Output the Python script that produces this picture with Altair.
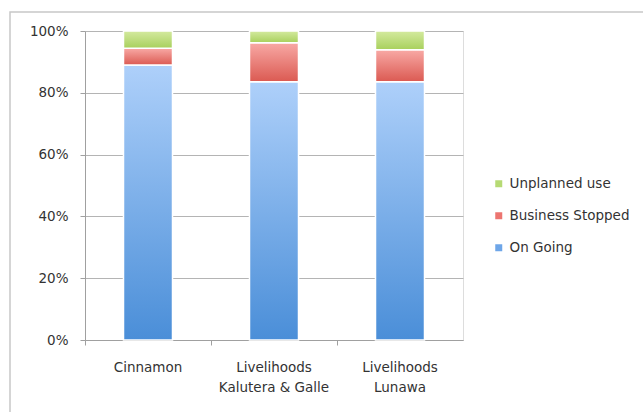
import altair as alt
import pandas as pd

# Share of supported businesses by status, per programme
categories = ["Cinnamon", "Livelihoods\nKalutera & Galle", "Livelihoods\nLunawa"]
on_going = [0.89, 0.836, 0.836]
business_stopped = [0.054, 0.126, 0.103]
unplanned_use = [0.056, 0.038, 0.061]

series_names = ["On Going", "Business Stopped", "Unplanned use"]
series_values = [on_going, business_stopped, unplanned_use]

rows = []
for order, (name, vals) in enumerate(zip(series_names, series_values)):
    for cat, v in zip(categories, vals):
        rows.append({"category": cat, "series": name, "value": v, "order": order})
df = pd.DataFrame(rows)

FONT = "DejaVu Sans"
FS = 13.5

legend_domain = ["Unplanned use", "Business Stopped", "On Going"]
legend_range = ["#b6da74", "#ec7570", "#6ea6e8"]

gradients = {
    "On Going": ("#aed0fa", "#4a8ed8"),
    "Business Stopped": ("#f8a9a5", "#db5a52"),
    "Unplanned use": ("#d4ea9f", "#a8d05c"),
}

x_enc = alt.X(
    "category:N",
    sort=categories,
    title=None,
    scale=alt.Scale(paddingInner=0, paddingOuter=0),
    axis=alt.Axis(
        labelExpr="split(datum.label, '\\n')",
        labelAngle=0,
        labelFont=FONT,
        labelFontSize=FS,
        labelColor="#333333",
        labelPadding=15,
        labelLineHeight=20,
        bandPosition=0,
        tickSize=5,
        tickColor="#a0a0a0",
        domainColor="#a0a0a0",
        grid=False,
    ),
)

base = alt.Chart(df).transform_stack(
    stack="value",
    groupby=["category"],
    as_=["y0", "y1"],
    sort=[alt.SortField("order", "ascending")],
)

y_enc = alt.Y(
    "y0:Q",
    title=None,
    scale=alt.Scale(domain=[0, 1], nice=False),
    axis=alt.Axis(
        format=".0%",
        values=[0, 0.2, 0.4, 0.6, 0.8, 1.0],
        labelFont=FONT,
        labelFontSize=FS,
        labelColor="#333333",
        labelPadding=12,
        tickSize=5,
        tickColor="#a0a0a0",
        domainColor="#a0a0a0",
        gridColor="#b4b4b4",
        gridWidth=1,
    ),
)

# Solid stacked layer that carries the legend
legend_layer = base.mark_bar(size=49).encode(
    x=x_enc,
    y=y_enc,
    y2="y1:Q",
    color=alt.Color(
        "series:N",
        scale=alt.Scale(domain=legend_domain, range=legend_range),
        legend=alt.Legend(
            title=None,
            orient="none",
            legendX=407,
            legendY=146,
            symbolType="square",
            symbolSize=49,
            symbolStrokeWidth=0,
            labelFont=FONT,
            labelFontSize=FS,
            labelColor="#333333",
            rowPadding=17,
            labelOffset=4,
        ),
    ),
)

# Gradient-filled segments drawn over the solid ones
grad_layers = []
for name in series_names:
    top, bottom = gradients[name]
    grad_layers.append(
        base.transform_filter(alt.datum.series == name)
        .mark_bar(
            size=49,
            stroke="white",
            strokeWidth=1.5,
            fill=alt.Gradient(
                gradient="linear",
                x1=0, y1=0, x2=0, y2=1,
                stops=[
                    alt.GradientStop(offset=0, color=top),
                    alt.GradientStop(offset=1, color=bottom),
                ],
            ),
        )
        .encode(x=x_enc, y="y0:Q", y2="y1:Q")
    )

# Thin outer frame around the whole graphic
frame = alt.Chart(pd.DataFrame({"k": [0]})).mark_rect(
    fill=None, stroke="#c8c8c8", strokeWidth=1.5
).encode(
    x=alt.value(-75), x2=alt.value(700), y=alt.value(-19), y2=alt.value(500)
)

chart = (
    alt.layer(frame, legend_layer, *grad_layers)
    .properties(
        width=378,
        height=309,
        padding={"left": 85, "top": 31, "right": 180, "bottom": 72},
        autosize=alt.AutoSizeParams(type="none"),
    )
    .configure_view(stroke=None)
    .configure(background="white")
)

chart.save("out.html", embed_options={"renderer": "svg", "actions": False})
